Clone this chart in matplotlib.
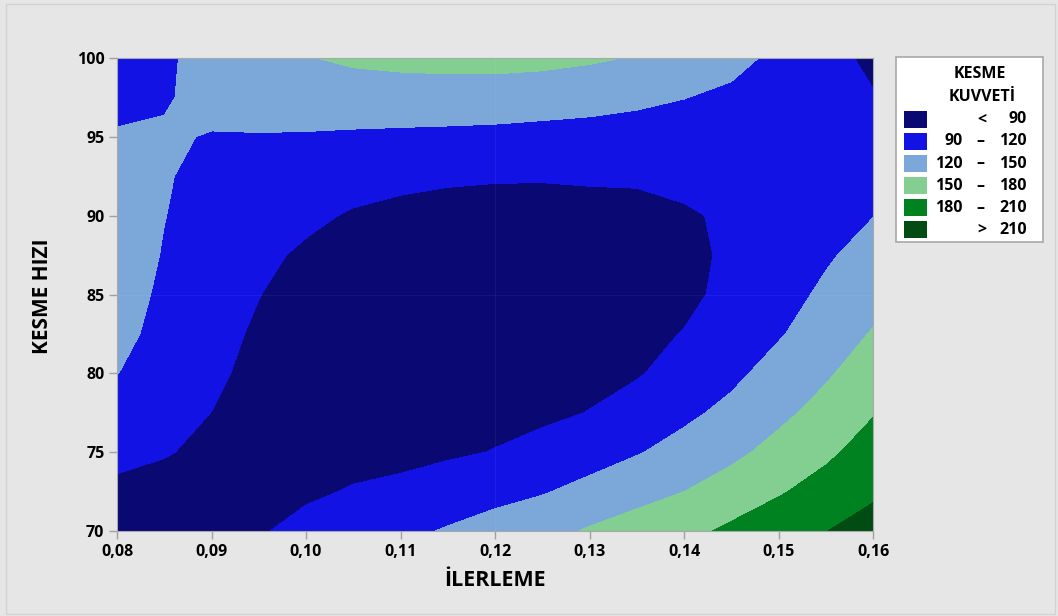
import matplotlib
matplotlib.use('Agg')
import matplotlib.pyplot as plt
from matplotlib.patches import Rectangle
import numpy as np

plt.rcParams['font.family'] = ['Open Sans', 'DejaVu Sans']

# grid
ilerleme = [0.080, 0.085, 0.090, 0.095, 0.100, 0.105, 0.110, 0.115, 0.120,
            0.125, 0.130, 0.135, 0.140, 0.145, 0.150, 0.155, 0.160]
kesme_hizi = [70, 72.5, 75, 77.5, 80, 82.5, 85, 87.5, 90, 92.5, 95, 97.5, 100]

# kesme kuvveti: one row per ilerleme value, bottom (70) to top (100)
kuvvet = [
    [73, 84.6, 96.6, 108.6, 120.5, 126.6, 129.2, 130, 128.7, 127, 122, 114, 106],
    [76, 82, 91.5, 99, 107.5, 113, 116.3, 118.9, 120.4, 121.5, 121.2, 119, 117],
    [76, 78, 85, 89.8, 94.8, 99.5, 103.5, 107.7, 112.2, 114.5, 119.4, 123.4, 127],
    [87.9, 83, 80, 81, 83, 85.9, 90.7, 96.6, 104, 112, 119, 128.1, 137.5],
    [96.6, 86.6, 80, 77, 76, 76, 78, 85.3, 96.2, 107, 118, 132.8, 148.5],
    [105.2, 91.6, 83, 78, 74, 72, 72, 75, 87, 102, 116.4, 134.7, 155],
    [113.9, 96, 83, 78, 73, 70, 68, 69, 81, 98.4, 115.1, 135.7, 157.9],
    [122.2, 105, 86, 79, 74, 70, 68, 68, 75, 95.9, 114, 135.8, 159.6],
    [131.5, 111.2, 91, 82, 76, 71, 69, 69, 75, 93.3, 112.7, 135.4, 159.9],
    [140, 118, 99.9, 84, 78, 73, 71, 71, 76, 92.7, 111, 132.9, 158.2],
    [152.9, 128.1, 108.3, 90.8, 82, 76, 73, 74, 80, 93.4, 110, 129.7, 154],
    [163, 139.8, 118.1, 102.7, 87.5, 83, 80.5, 81, 84.5, 92.4, 108.3, 125.6, 148],
    [172, 149.9, 129.9, 114.2, 101.5, 91, 84, 83.2, 86.5, 97.6, 108.5, 120.5, 136.8],
    [185.5, 162.9, 143.3, 127, 113.7, 104.7, 96.8, 94.3, 94.5, 101, 107, 115.5, 126.8],
    [197.7, 177.2, 158.9, 143.4, 130.5, 117.5, 110.5, 105.4, 102, 105, 108, 111.5, 115],
    [209.5, 191.3, 174.4, 159.7, 146.4, 134.5, 124.5, 117, 112, 109, 106.5, 103.2, 99.4],
    [220, 206, 192.1, 178.3, 165, 152, 140, 129, 119.5, 110.3, 101, 91.9, 83.8],
]

seviyeler = [90, 120, 150, 180, 210]
renkler = ['#0a0872', '#1212e4', '#7ca7d9', '#83cf91', '#008221', '#004c12']
x_ticks = [0.08, 0.09, 0.10, 0.11, 0.12, 0.13, 0.14, 0.15, 0.16]
y_ticks = [70, 75, 80, 85, 90, 95, 100]

W, H = 1058, 616
fig = plt.figure(figsize=(W / 100, H / 100), dpi=100, facecolor='#e6e6e6')
fig.add_artist(Rectangle((6 / W, 2 / H), 1049 / W, 610 / H, transform=fig.transFigure,
                         facecolor='none', edgecolor='#d2d2d2', lw=1))

ax = fig.add_axes([117 / W, 1 - 531 / H, 756 / W, 473 / H])
X, Y = np.meshgrid(ilerleme, kesme_hizi)
Z = np.array(kuvvet).T
ax.contourf(X, Y, Z, levels=[0] + seviyeler + [1000], colors=renkler)
ax.axvline(0.12, color='white', alpha=0.05, lw=0.8)
ax.axhline(85, color='white', alpha=0.05, lw=0.8)

ax.set_xlim(0.08, 0.16)
ax.set_ylim(70, 100)
ax.set_xticks(x_ticks)
ax.set_xticklabels([f'{v:.2f}'.replace('.', ',') for v in x_ticks],
                   fontsize=11.5, fontweight='bold')
ax.set_yticks(y_ticks)
ax.set_yticklabels([str(v) for v in y_ticks], fontsize=11.5, fontweight='bold')
ax.tick_params(direction='out', length=6, width=1, color='#a0a0a0', pad=3)
for s in ax.spines.values():
    s.set_color('#a8a8a8')

fig.text(42 / W, 1 - 296 / H, 'KESME HIZI', rotation=90, ha='center', va='center',
         fontsize=15, fontweight='bold')
fig.text(495 / W, 1 - 580 / H, 'İLERLEME', ha='center', va='center',
         fontsize=15.5, fontweight='bold')

# legend box drawn in its own pixel-based axes
lax = fig.add_axes([896 / W, 1 - 242 / H, 147 / W, 185 / H])
lax.set_xlim(0, 147)
lax.set_ylim(185, 0)
lax.axis('off')
lax.add_patch(Rectangle((0, 0), 147, 185, facecolor='white', edgecolor='#a8a8a8',
                        lw=1.2, clip_on=False))
fs = 11.5
lax.text(84, 17, 'KESME', ha='center', va='center', fontsize=fs, fontweight='bold')
lax.text(86, 40, 'KUVVETİ', ha='center', va='center', fontsize=fs, fontweight='bold')

for i, c in enumerate(renkler):
    yc = 62.4 + 22.05 * i
    lax.add_patch(Rectangle((8, yc - 8.3), 23, 16.6, facecolor=c, edgecolor='none'))
    if i == 0:
        lax.text(86, yc, '<', ha='center', va='center', fontsize=fs, fontweight='bold')
        lax.text(131, yc, str(seviyeler[0]), ha='right', va='center', fontsize=fs,
                 fontweight='bold')
    elif i == len(renkler) - 1:
        lax.text(86, yc, '>', ha='center', va='center', fontsize=fs, fontweight='bold')
        lax.text(131, yc, str(seviyeler[-1]), ha='right', va='center', fontsize=fs,
                 fontweight='bold')
    else:
        lax.text(67, yc, str(seviyeler[i - 1]), ha='right', va='center', fontsize=fs,
                 fontweight='bold')
        lax.text(84, yc, '–', ha='center', va='center', fontsize=fs, fontweight='bold')
        lax.text(131, yc, str(seviyeler[i]), ha='right', va='center', fontsize=fs,
                 fontweight='bold')

fig.savefig('out.png', dpi=100, facecolor=fig.get_facecolor())
